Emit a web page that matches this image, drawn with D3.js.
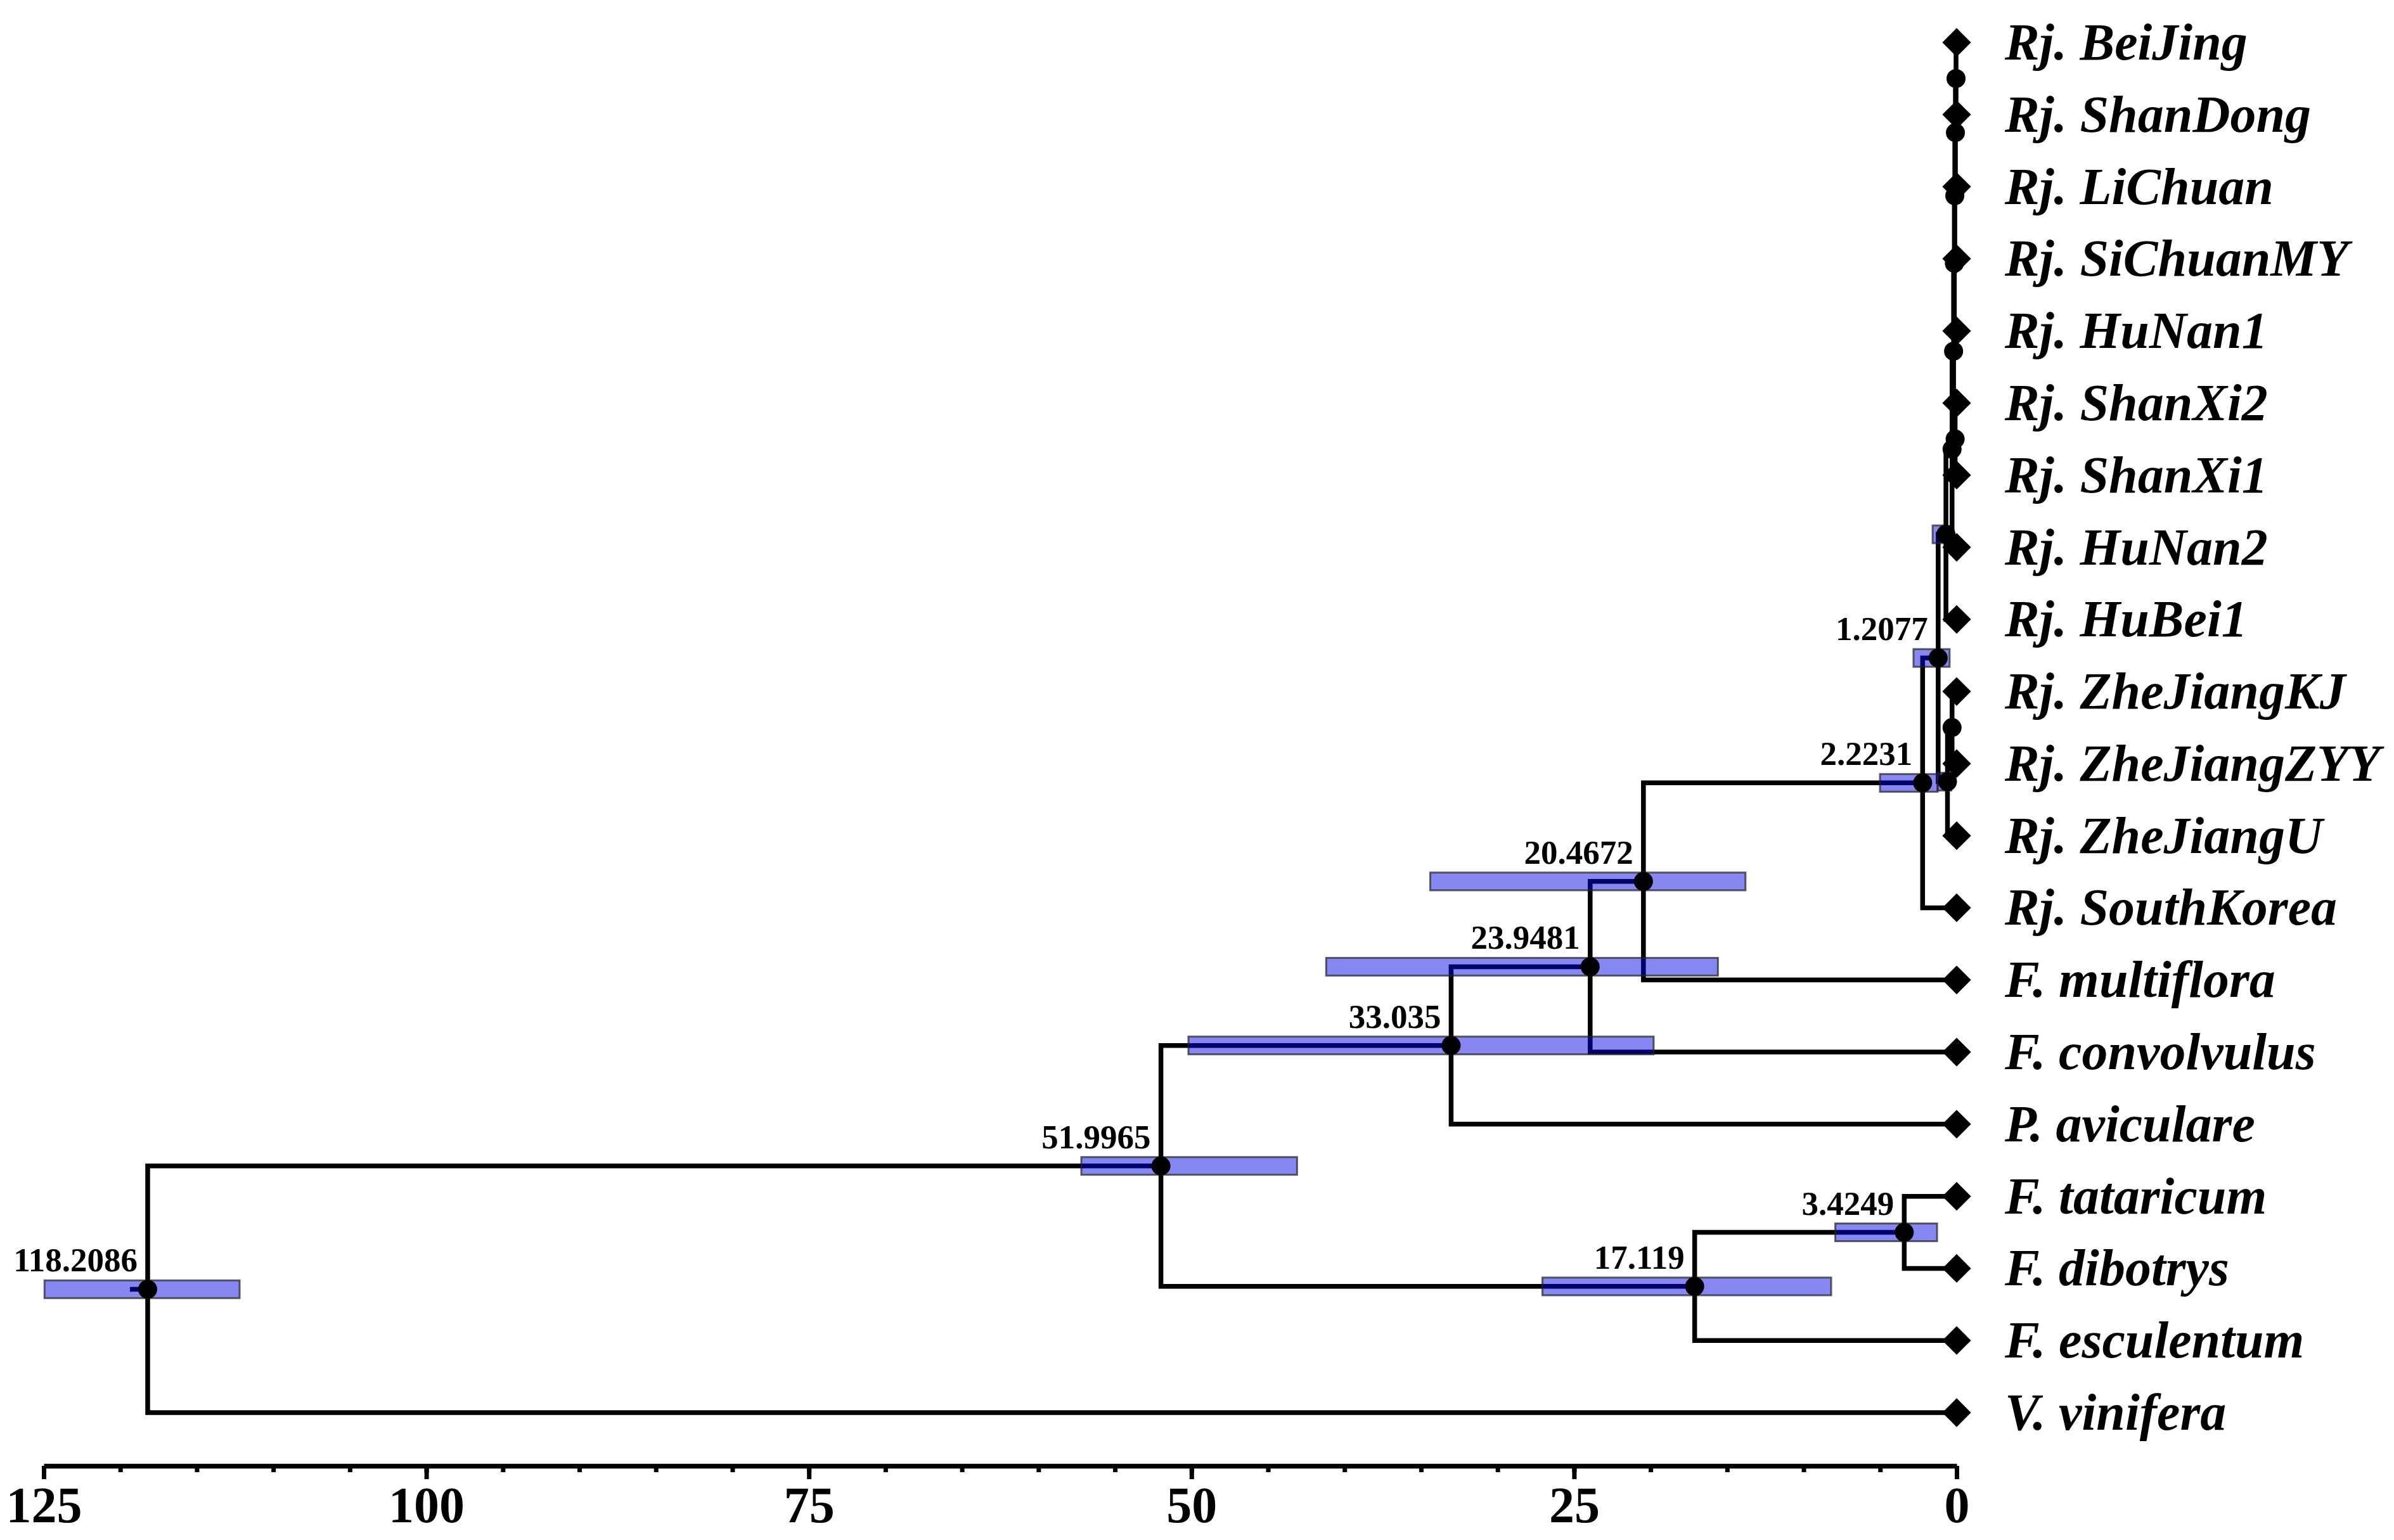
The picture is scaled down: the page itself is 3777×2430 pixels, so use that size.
<!DOCTYPE html>
<html>
<head>
<meta charset="utf-8">
<script src="https://cdn.jsdelivr.net/npm/d3@7"></script>
<style>
  body { margin: 0; background: #fff; }
  text { font-family: "Liberation Serif", "Times New Roman", serif; }
</style>
</head>
<body>
<svg id="chart"></svg>
<script>
const width = 3777;
const height = 2430;

// tips, top to bottom
const tipNames = [
  "Rj. BeiJing", "Rj. ShanDong", "Rj. LiChuan", "Rj. SiChuanMY", "Rj. HuNan1",
  "Rj. ShanXi2", "Rj. ShanXi1", "Rj. HuNan2", "Rj. HuBei1", "Rj. ZheJiangKJ",
  "Rj. ZheJiangZYY", "Rj. ZheJiangU", "Rj. SouthKorea", "F. multiflora",
  "F. convolvulus", "P. aviculare", "F. tataricum", "F. dibotrys",
  "F. esculentum", "V. vinifera"
];

// internal nodes: id, children, age (Ma), 95% HPD
const nodeIds = ["n1", "n2", "n3", "n4", "n5", "n6", "n7", "n8", "n9", "n10",
  "n11", "n12", "n13", "n14", "n15", "n16", "n17", "n18", "root"];
const nodeKids = [
  ["Rj. BeiJing", "Rj. ShanDong"],
  ["n1", "Rj. LiChuan"],
  ["n2", "Rj. SiChuanMY"],
  ["n3", "Rj. HuNan1"],
  ["Rj. ShanXi2", "Rj. ShanXi1"],
  ["n4", "n5"],
  ["n6", "Rj. HuNan2"],
  ["n7", "Rj. HuBei1"],
  ["Rj. ZheJiangKJ", "Rj. ZheJiangZYY"],
  ["n9", "Rj. ZheJiangU"],
  ["n8", "n10"],
  ["n11", "Rj. SouthKorea"],
  ["n12", "F. multiflora"],
  ["n13", "F. convolvulus"],
  ["n14", "P. aviculare"],
  ["F. tataricum", "F. dibotrys"],
  ["n16", "F. esculentum"],
  ["n15", "n17"],
  ["n18", "V. vinifera"]
];
const nodeAges = [0.04, 0.08, 0.12, 0.15, 0.1, 0.2, 0.3, 0.7, 0.3, 0.6,
  1.2077, 2.2231, 20.4672, 23.9481, 33.035, 3.4249, 17.119, 51.9965, 118.2086];
const hpdLow  = [null, null, null, null, null, null, null, 0.6, null, 0.35,
  0.46, 1.24, 13.8, 15.6, 19.8, 1.28, 8.2, 43.1, 112.2];
const hpdHigh = [null, null, null, null, null, null, null, 1.57, null, 1.25,
  2.82, 5.01, 34.4, 41.2, 50.2, 7.93, 27.07, 57.2, 124.95];
const labelledNodes = ["n11", "n12", "n13", "n14", "n15", "n16", "n17", "n18", "root"];

// axis ticks
const majorTicks = [125, 100, 75, 50, 25, 0];
const minorTicks = d3.range(0, 126, 5);

// build tree
const lookup = {};
tipNames.forEach(n => { lookup[n] = { name: n, age: 0, tip: true }; });
nodeIds.forEach((id, i) => {
  lookup[id] = { name: id, age: nodeAges[i], lo: hpdLow[i], hi: hpdHigh[i], tip: false };
});
nodeIds.forEach((id, i) => { lookup[id].children = nodeKids[i].map(k => lookup[k]); });

const root = d3.hierarchy(lookup["root"], d => d.children);

const x = d3.scaleLinear().domain([125, 0]).range([69, 3087]);
const y = d3.scalePoint().domain(tipNames).range([67, 2229]);

root.eachAfter(n => {
  n.py = n.children ? d3.mean(n.children, c => c.py) : y(n.data.name);
  n.px = x(n.data.age);
});

const svg = d3.select("#chart")
  .attr("width", width)
  .attr("height", height)
  .attr("viewBox", `0 0 ${width} ${height}`);

// branches
svg.append("g")
  .selectAll("path")
  .data(root.links())
  .join("path")
  .attr("d", l => `M${l.source.px},${l.source.py}V${l.target.py}H${l.target.px}`)
  .attr("fill", "none")
  .attr("stroke", "#000")
  .attr("stroke-width", 7.5)
  .attr("stroke-linecap", "square");

// root stub
svg.append("line")
  .attr("x1", root.px - 28).attr("x2", root.px)
  .attr("y1", root.py).attr("y2", root.py)
  .attr("stroke", "#000")
  .attr("stroke-width", 7.5);

// HPD bars
const barH = 28;
svg.append("g")
  .selectAll("rect")
  .data(root.descendants().filter(d => d.data.lo != null))
  .join("rect")
  .attr("x", d => x(d.data.hi))
  .attr("width", d => x(d.data.lo) - x(d.data.hi))
  .attr("y", d => d.py - barH / 2)
  .attr("height", barH)
  .attr("fill", "rgb(0,0,225)")
  .attr("fill-opacity", 0.47)
  .attr("stroke", "#222")
  .attr("stroke-opacity", 0.7)
  .attr("stroke-width", 3);

// node dots
svg.append("g")
  .selectAll("circle")
  .data(root.descendants().filter(d => d.children))
  .join("circle")
  .attr("cx", d => d.px)
  .attr("cy", d => d.py)
  .attr("r", 15)
  .attr("fill", "#000");

// tip diamonds
svg.append("g")
  .selectAll("path")
  .data(root.leaves())
  .join("path")
  .attr("d", d3.symbol(d3.symbolSquare, 1024))
  .attr("transform", d => `translate(${d.px},${d.py}) rotate(45)`)
  .attr("fill", "#000");

// tip labels
svg.append("g")
  .selectAll("text")
  .data(root.leaves())
  .join("text")
  .attr("x", d => d.px + 76)
  .attr("y", d => d.py + 27)
  .attr("font-size", 82)
  .attr("font-weight", "bold")
  .attr("font-style", "italic")
  .text(d => d.data.name);

// node age labels
svg.append("g")
  .selectAll("text")
  .data(root.descendants().filter(d => labelledNodes.includes(d.data.name)))
  .join("text")
  .attr("x", d => d.px - 16)
  .attr("y", d => d.py - 28)
  .attr("text-anchor", "end")
  .attr("font-size", 53)
  .attr("font-weight", "bold")
  .text(d => d.data.age);

// time axis
const axisY = 2313;
const minorAxis = svg.append("g")
  .attr("transform", `translate(0,${axisY})`)
  .call(d3.axisBottom(x).tickValues(minorTicks).tickSize(10).tickSizeOuter(0).tickFormat(""));
minorAxis.select(".domain").attr("stroke-width", 7.5);
minorAxis.selectAll(".tick line").attr("stroke-width", 7);

const majorAxis = svg.append("g")
  .attr("transform", `translate(0,${axisY})`)
  .call(d3.axisBottom(x).tickValues(majorTicks).tickSize(21).tickSizeOuter(0));
majorAxis.select(".domain").remove();
majorAxis.selectAll(".tick line").attr("stroke-width", 7);
majorAxis.selectAll(".tick text")
  .attr("y", 89)
  .attr("dy", 0)
  .attr("font-size", 80)
  .attr("font-weight", "bold")
  .attr("font-family", "Liberation Serif, Times New Roman, serif");
</script>
</body>
</html>
